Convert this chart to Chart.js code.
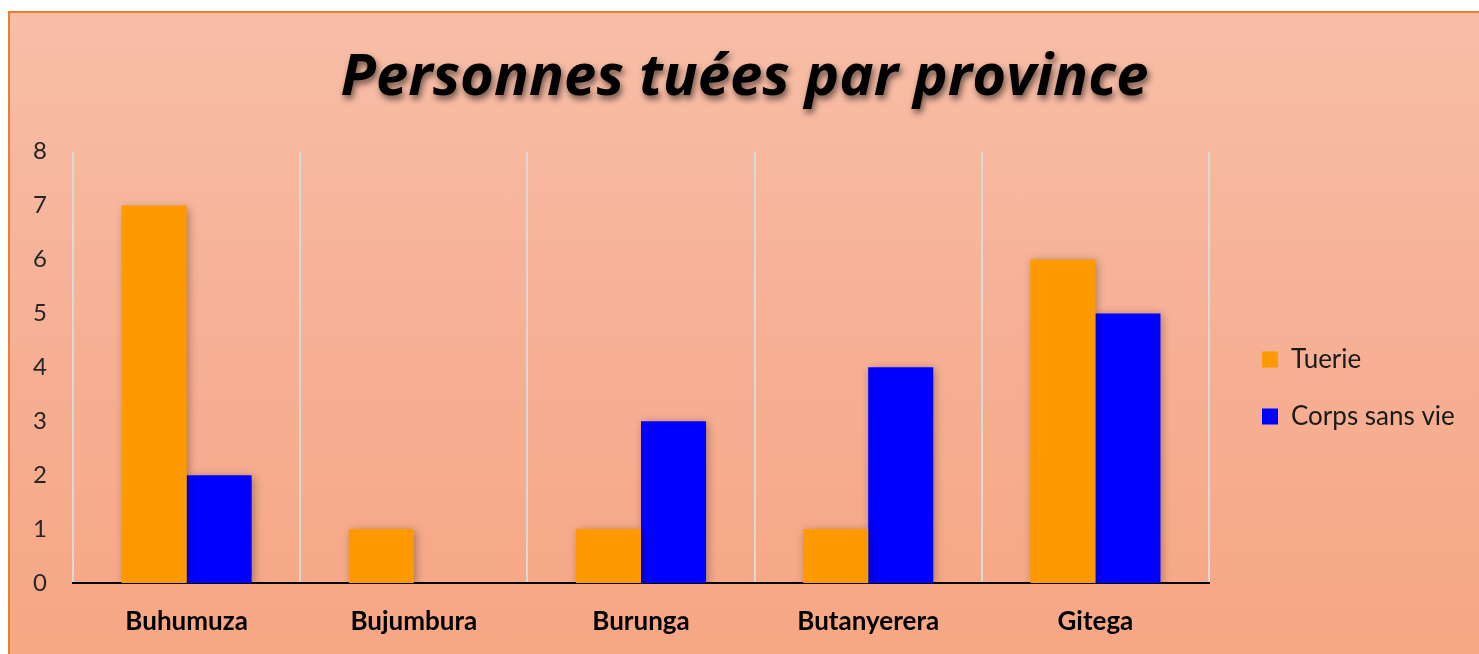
<!DOCTYPE html>
<html lang="fr">
<head>
<meta charset="utf-8">
<title>Personnes tuées par province</title>
<script src="https://cdn.jsdelivr.net/npm/chart.js@4.4.1/dist/chart.umd.min.js"></script>
<style>
  html, body { margin: 0; padding: 0; background: #fff; overflow: hidden; }
  #frame {
    position: absolute;
    left: 8px;
    top: 11px;
    width: 1469px;
    height: 641px;
    border-top: 2px solid #ED7D31;
    border-left: 2px solid #ED7D31;
    background: linear-gradient(to bottom, #F8BEA7 0%, #F6B095 50%, #F6A784 100%);
  }
  #wrap { position: relative; width: 1469px; height: 641px; }
</style>
</head>
<body>
<div id="frame">
  <div id="wrap"><canvas id="chart"></canvas></div>
</div>
<script>
const provinces = ["Buhumuza", "Bujumbura", "Burunga", "Butanyerera", "Gitega"];
const tuerie = [7, 1, 1, 1, 6];
const corpsSansVie = [2, 0, 3, 4, 5];
const yTicks = [0, 1, 2, 3, 4, 5, 6, 7, 8];

const orange = "#FF9900";
const blue = "#0000FF";
const labelFont = "Lato, 'Open Sans', sans-serif";
const titleFont = "'Open Sans', Lato, sans-serif";

const legendWidth = 270;
const legendShiftX = 22;
const legendShiftY = 63;

// soft drop shadow under the bars, like the office chart
const barShadow = {
  id: "barShadow",
  beforeDatasetsDraw(chart) {
    const ctx = chart.ctx;
    ctx.save();
    ctx.shadowColor = "rgba(0, 0, 0, 0.35)";
    ctx.shadowBlur = 9;
    ctx.shadowOffsetX = 2;
    ctx.shadowOffsetY = 2;
  },
  afterDatasetsDraw(chart) {
    chart.ctx.restore();
  },
};

// blurred shadow behind the title text
const titleShadow = {
  id: "titleShadow",
  afterInit(chart) {
    const tb = chart.titleBlock;
    if (!tb) return;
    const orig = tb.draw.bind(tb);
    tb.draw = function () {
      const ctx = chart.ctx;
      ctx.save();
      ctx.shadowColor = "rgba(0, 0, 0, 0.55)";
      ctx.shadowBlur = 6;
      ctx.shadowOffsetX = 2;
      ctx.shadowOffsetY = 4;
      orig();
      ctx.restore();
    };
  },
};

// fixed width legend column on the right, nudged into place
const legendPlace = {
  id: "legendPlace",
  afterInit(chart) {
    const lg = chart.legend;
    if (!lg) return;
    const fit = lg.fit.bind(lg);
    lg.fit = function () {
      fit();
      this.width = legendWidth;
    };
  },
  afterLayout(chart) {
    const lg = chart.legend;
    lg.left += legendShiftX;
    lg.right += legendShiftX;
    lg.top += legendShiftY;
    lg.bottom += legendShiftY;
  },
};

new Chart(document.getElementById("chart"), {
  type: "bar",
  data: {
    labels: provinces,
    datasets: [
      {
        label: "Tuerie",
        data: tuerie,
        backgroundColor: orange,
        borderWidth: 0,
      },
      {
        label: "Corps sans vie",
        data: corpsSansVie,
        backgroundColor: blue,
        borderWidth: 0,
      },
    ],
  },
  options: {
    responsive: true,
    maintainAspectRatio: false,
    animation: false,
    datasets: {
      bar: { categoryPercentage: 0.5727, barPercentage: 1 },
    },
    layout: { padding: { left: 0, right: 0, top: 0, bottom: 17 } },
    plugins: {
      title: {
        display: true,
        text: "Personnes tuées par province",
        color: "#000",
        font: { family: titleFont, size: 58, weight: "bold", style: "italic", lineHeight: 1.2 },
        padding: { top: 31, bottom: 38 },
      },
      legend: {
        position: "right",
        labels: {
          color: "#1a1a1a",
          font: { family: labelFont, size: 26 },
          boxWidth: 16,
          boxHeight: 16,
          padding: 31,
        },
      },
      tooltip: { enabled: false },
    },
    scales: {
      x: {
        offset: true,
        afterFit(scale) { scale.height = 54; },
        grid: {
          display: true,
          offset: true,
          color: "#D9D9D9",
          lineWidth: 2,
          drawTicks: false,
        },
        border: { display: true, color: "#000", width: 2 },
        ticks: {
          color: "#000",
          padding: 23,
          font: { family: labelFont, size: 26, weight: "bold" },
        },
      },
      y: {
        min: 0,
        max: 8,
        afterFit(scale) { scale.width = 63; },
        afterBuildTicks(scale) { scale.ticks = yTicks.map((v) => ({ value: v })); },
        grid: { display: false, drawTicks: false },
        border: { display: false },
        ticks: {
          color: "#262626",
          padding: 26,
          font: { family: labelFont, size: 24 },
        },
      },
    },
  },
  plugins: [barShadow, titleShadow, legendPlace],
});
</script>
</body>
</html>
